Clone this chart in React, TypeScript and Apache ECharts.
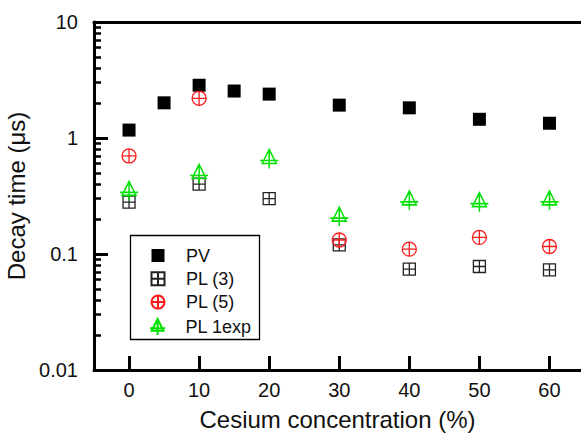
import React, { useEffect, useRef } from 'react';
import * as echarts from 'echarts';

// ---- data ----
const xTickValues = [0, 10, 20, 30, 40, 50, 60];
const yMajorTicks = [0.01, 0.1, 1, 10];
const yMinorTicks = [
  0.02, 0.03, 0.04, 0.05, 0.06, 0.07, 0.08, 0.09,
  0.2, 0.3, 0.4, 0.5, 0.6, 0.7, 0.8, 0.9,
  2, 3, 4, 5, 6, 7, 8, 9,
];

const pvX = [0, 5, 10, 15, 20, 30, 40, 50, 60];
const pvY = [1.17, 2.01, 2.85, 2.54, 2.39, 1.92, 1.82, 1.45, 1.34];

const pl3X = [0, 10, 20, 30, 40, 50, 60];
const pl3Y = [0.28, 0.4, 0.3, 0.12, 0.074, 0.078, 0.073];

const pl5X = [0, 10, 30, 40, 50, 60];
const pl5Y = [0.7, 2.2, 0.132, 0.11, 0.139, 0.116];

const pl1X = [0, 10, 20, 30, 40, 50, 60];
const pl1Y = [0.35, 0.49, 0.66, 0.21, 0.29, 0.28, 0.29];

const seriesNames = ['PV', 'PL (3)', 'PL (5)', 'PL 1exp'];

const FONT = '"Liberation Sans", Arial, Helvetica, sans-serif';

const squareFill = 'path://M0,0 L10,0 L10,10 L0,10 Z';
const squarePlus = 'path://M0,0 L20,0 L20,20 L0,20 Z M10,0 L10,20 M0,10 L20,10';
const circlePlus =
  'path://M0,10 A10,10 0 1,1 20,10 A10,10 0 1,1 0,10 Z M10,0 L10,20 M0,10 L20,10';
const trianglePlus =
  'path://M9,0 L16,14 L2,14 Z M0,11 L18,11 M9,0 L9,19';

const pairs = (xs: number[], ys: number[]) => xs.map((x, i) => [x, ys[i]]);

export default function App() {
  const ref = useRef<HTMLDivElement>(null);

  useEffect(() => {
    if (!ref.current) return;
    const chart = echarts.init(ref.current, null, { renderer: 'svg' });

    const fmtY = (v: number) => {
      if (v >= 1) return String(Math.round(v));
      if (Math.abs(v - 0.1) < 1e-9) return '0.1';
      if (Math.abs(v - 0.01) < 1e-9) return '0.01';
      return String(v);
    };

    const legendText = { fontSize: 18, color: '#111', fontFamily: FONT };

    chart.setOption({
      animation: false,
      backgroundColor: '#ffffff',
      textStyle: { fontFamily: FONT },
      grid: {
        left: 94,
        top: 22,
        right: 0,
        bottom: 63,
        containLabel: false,
        outerBoundsMode: 'none',
      },
      xAxis: [
        {
          type: 'value',
          min: -5,
          max: 64.5,
          position: 'bottom',
          name: 'Cesium concentration (%)',
          nameLocation: 'middle',
          nameGap: 37,
          nameTextStyle: { fontSize: 24, color: '#111', fontFamily: FONT },
          axisLine: { show: true, onZero: false, lineStyle: { color: '#000', width: 3 } },
          axisTick: {
            show: true,
            inside: true,
            length: 14,
            customValues: xTickValues,
            lineStyle: { color: '#000', width: 3 },
          },
          axisLabel: {
            show: true,
            customValues: xTickValues,
            fontSize: 20,
            color: '#111',
            margin: 10,
            fontFamily: FONT,
          },
          splitLine: { show: false },
        },
        {
          type: 'value',
          min: -5,
          max: 64.5,
          position: 'top',
          axisLine: { show: true, onZero: false, lineStyle: { color: '#000', width: 3 } },
          axisTick: { show: false },
          axisLabel: { show: false },
          splitLine: { show: false },
        },
      ],
      yAxis: [
        {
          type: 'log',
          logBase: 10,
          min: 0.01,
          max: 10,
          position: 'left',
          name: 'Decay time (\u03bcs)',
          nameLocation: 'middle',
          nameGap: 53,
          nameRotate: 90,
          nameTextStyle: { fontSize: 24, color: '#111', fontFamily: FONT },
          axisLine: { show: true, onZero: false, lineStyle: { color: '#000', width: 3 } },
          axisTick: {
            show: true,
            inside: true,
            length: 14,
            customValues: yMajorTicks,
            lineStyle: { color: '#000', width: 3 },
          },
          axisLabel: {
            show: true,
            customValues: yMajorTicks,
            fontSize: 20,
            color: '#111',
            margin: 16,
            fontFamily: FONT,
            formatter: (v: number) => fmtY(v),
          },
          splitLine: { show: false },
          minorTick: { show: false },
        },
        {
          type: 'log',
          logBase: 10,
          min: 0.01,
          max: 10,
          position: 'left',
          axisLine: { show: false, onZero: false },
          axisTick: {
            show: true,
            inside: true,
            length: 7,
            customValues: yMinorTicks,
            lineStyle: { color: '#000', width: 2.5 },
          },
          axisLabel: { show: false },
          splitLine: { show: false },
        },
      ],
      graphic: [
        {
          type: 'rect',
          left: 128,
          top: 233,
          shape: { width: 129, height: 104 },
          style: { fill: 'none', stroke: '#000', lineWidth: 1.3 },
          z: 10,
        },
      ],
      legend: [
        {
          orient: 'vertical',
          left: 150.5,
          top: 246.5,
          padding: 0,
          itemWidth: 46,
          itemHeight: 13,
          itemGap: 5.3,
          symbolKeepAspect: true,
          data: [
            { name: seriesNames[0], icon: squareFill },
            { name: seriesNames[1] },
            { name: seriesNames[2] },
          ],
          textStyle: legendText,
        },
        {
          orient: 'vertical',
          left: 149,
          top: 318,
          padding: 0,
          itemWidth: 46,
          itemHeight: 16,
          itemGap: 0,
          symbolKeepAspect: true,
          data: [{ name: seriesNames[3] }],
          textStyle: legendText,
        },
      ],
      series: [
        {
          name: seriesNames[0],
          type: 'scatter',
          data: pairs(pvX, pvY),
          symbol: 'rect',
          symbolSize: 13,
          itemStyle: { color: '#000', opacity: 1 },
        },
        {
          name: seriesNames[1],
          type: 'scatter',
          data: pairs(pl3X, pl3Y),
          symbol: squarePlus,
          symbolSize: 12,
          itemStyle: { color: 'rgba(255,255,255,0)', borderColor: '#222', borderWidth: 1.3, opacity: 1 },
        },
        {
          name: seriesNames[2],
          type: 'scatter',
          data: pairs(pl5X, pl5Y),
          symbol: circlePlus,
          symbolSize: 14,
          itemStyle: { color: 'rgba(255,255,255,0)', borderColor: '#ff1a1a', borderWidth: 1.3, opacity: 1 },
        },
        {
          name: seriesNames[3],
          type: 'scatter',
          data: pairs(pl1X, pl1Y),
          symbol: trianglePlus,
          symbolSize: [18, 19],
          itemStyle: { color: 'rgba(255,255,255,0)', borderColor: '#00e000', borderWidth: 1.5, opacity: 1 },
        },
      ],
    });

    return () => {
      chart.dispose();
    };
  }, []);

  return (
    <div
      ref={ref}
      style={{ position: 'fixed', left: 0, top: 0, width: 581, height: 433, background: '#fff' }}
    />
  );
}
